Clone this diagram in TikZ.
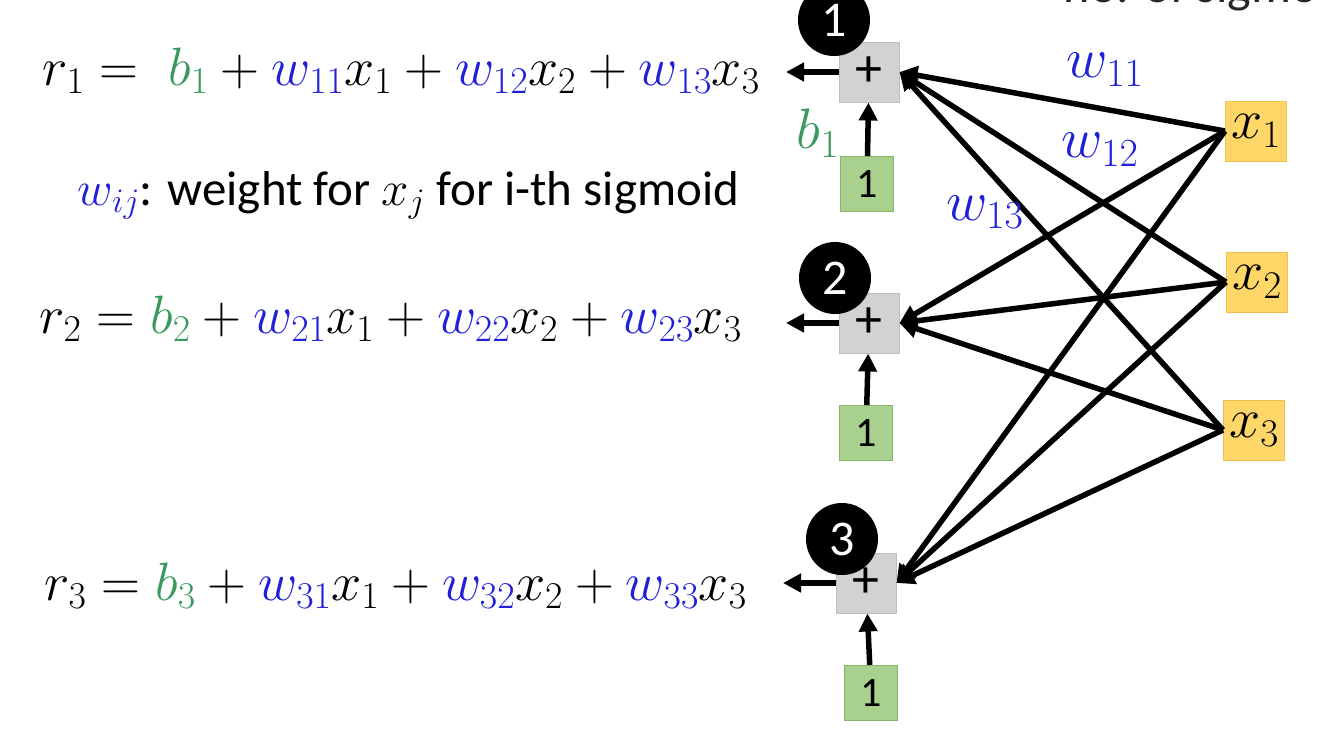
\RequirePackage{fix-cm}
\documentclass[tikz,border=0pt]{standalone}
\usepackage[no-math]{fontspec}
\setmainfont{Carlito}
\usetikzlibrary{arrows.meta,positioning}
\definecolor{wblue}{HTML}{2020D8}
\definecolor{bgreen}{HTML}{3A9A5E}
\definecolor{sumfill}{HTML}{D2D2D2}
\definecolor{sumline}{HTML}{BDBDBD}
\definecolor{onefill}{HTML}{A9D18E}
\definecolor{oneline}{HTML}{86B567}
\definecolor{infill}{HTML}{FFD668}
\definecolor{inline}{HTML}{F2C04E}
\newcommand{\wt}[1]{{\color{wblue}w_{#1}}}
\newcommand{\bterm}[1]{{\color{bgreen}b_{#1}}}
\tikzset{
  >={Triangle[length=18pt,width=18pt]},
  every picture/.style={line width=5.5pt},
  sumbx/.style={draw=sumline,fill=sumfill,line width=1pt,minimum width=60pt,minimum height=60pt,inner sep=0pt,font=\fontsize{54}{54}\selectfont},
  onebx/.style={draw=oneline,fill=onefill,line width=1pt,minimum width=53pt,minimum height=55pt,inner sep=0pt,font=\fontsize{42}{42}\selectfont},
  inbx/.style={draw=inline,fill=infill,line width=1pt,minimum width=61pt,minimum height=60pt,inner sep=0pt,font=\fontsize{56}{56}\selectfont},
  badge/.style={circle,fill=black,text=white,minimum size=72pt,inner sep=0pt,font=\fontsize{50}{50}\selectfont},
  eq/.style={anchor=base west,inner sep=0pt,font=\fontsize{54}{58}\selectfont},
  lab/.style={inner sep=0pt,font=\fontsize{57}{60}\selectfont},
  arr/.style={->,draw=black},
}
\begin{document}
\begin{tikzpicture}[x=1pt,y=-1pt]
  \clip (0,0) rectangle (1318,742);
  \fill[white] (0,0) rectangle (1318,742);
  % cut-off title
  \node[anchor=base west,inner sep=0pt,font=\fontsize{50}{50}\selectfont,text=black!85] (ttl) at (1061,2) {no. of sigmoid};
  % equations
  \node[eq] (e1) at (40,85) {$r_1 = \;\bterm{1} + \wt{11}x_1 + \wt{12}x_2 + \wt{13}x_3$};
  \node[anchor=base west,inner sep=0pt,font=\fontsize{49}{52}\selectfont] (wij) at (75,205) {$\wt{ij}$: weight for $x_j$ for i-th sigmoid};
  \node[eq] (e2) at (37,333) {$r_2 = \bterm{2} + \wt{21}x_1 + \wt{22}x_2 + \wt{23}x_3$};
  \node[eq] (e3) at (42,600) {$r_3 = \bterm{3} + \wt{31}x_1 + \wt{32}x_2 + \wt{33}x_3$};
  % sums, biases, inputs
  \node[sumbx] (s1) at (869,72) {+};
  \node[sumbx] (s2) at (869,323) {+};
  \node[sumbx] (s3) at (866,583) {+};
  \node[badge] (c1) at (834,20) {1};
  \node[badge] (c2) at (835,278) {2};
  \node[badge] (c3) at (842,539) {3};
  \node[onebx] (o1) at (867,184) {1};
  \node[onebx] (o2) at (866,433) {1};
  \node[onebx] (o3) at (871,693) {1};
  \node[inbx] (x1) at (1256,131) {$x_1$};
  \node[inbx] (x2) at (1257,282) {$x_2$};
  \node[inbx] (x3) at (1254,430) {$x_3$};
  \coordinate (r1) at (786,72);
  \coordinate (r2) at (786,323);
  \coordinate (r3) at (783,583);
  % connectors
  \foreach \i in {1,2,3}{
    \draw[arr] (s\i) -- (r\i);
    \draw[arr] (o\i) -- (s\i);
    \foreach \j in {1,2,3}
      \draw[arr] (x\j.west) -- (s\i.east);
  }
  \node[lab,text=wblue] (l11) at (1105,70) {$w_{11}$};
  \node[lab,text=wblue] (l12) at (1100,150) {$w_{12}$};
  \node[lab,text=wblue] (l13) at (985,212) {$w_{13}$};
  \node[lab,text=bgreen] (lb1) at (818,133) {$b_1$};
\end{tikzpicture}
\end{document}
